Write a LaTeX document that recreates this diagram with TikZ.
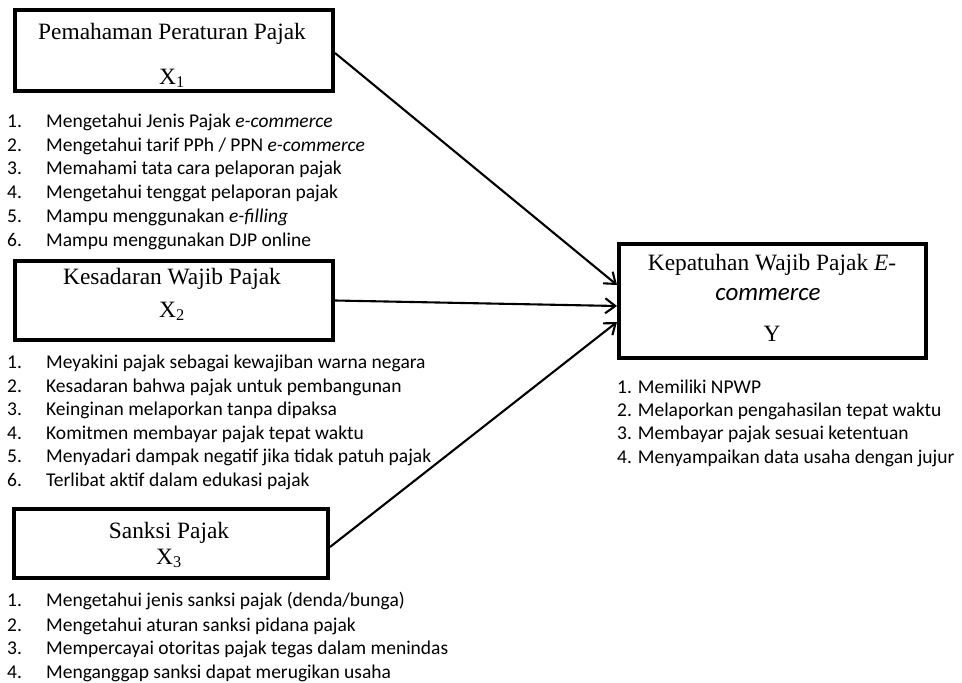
\documentclass[tikz,border=0pt]{standalone}
\usepackage{fontspec}
\setmainfont{Liberation Serif}
\newfontfamily\listfont{Carlito}
\usetikzlibrary{arrows.meta}
\begin{document}
\begin{tikzpicture}[x=1pt,y=-1pt,
  box/.style={draw, line width=3.8pt, inner sep=0pt},
  ttl/.style={anchor=base, inner sep=0pt, font=\fontsize{23.4}{28}\selectfont},
  itm/.style={anchor=base west, inner sep=0pt, font=\listfont\fontsize{19.5}{23.7}\selectfont},
  arr/.style={line width=2.1pt, -{Straight Barb[length=10pt,width=15pt,line width=2.1pt]}}]
\useasboundingbox (0,0) rectangle (962,683);
% boxes
\node[box, minimum width=318.2pt, minimum height=81.2pt] (b1) at (174,50.5) {};
\node[box, minimum width=318.2pt, minimum height=79.2pt] (b2) at (174,300.5) {};
\node[box, minimum width=314.2pt, minimum height=69.2pt] (b3) at (171,543.5) {};
\node[box, minimum width=307.2pt, minimum height=114.2pt] (bY) at (772.5,301) {};
% titles
\node[ttl] (t1) at (172,39.5) {Pemahaman Peraturan Pajak};
\node[ttl] (s1) at (172,84) {X\textsubscript{1}};
\node[ttl] (t2) at (172,284) {Kesadaran Wajib Pajak};
\node[ttl] (s2) at (172,317) {X\textsubscript{2}};
\node[ttl] (t3) at (169,538.5) {Sanksi Pajak};
\node[ttl] (s3) at (169,564) {X\textsubscript{3}};
\node[ttl] (tY) at (772,270.5) {Kepatuhan Wajib Pajak \textit{E}-};
\node[ttl, font=\listfont\itshape\fontsize{25}{28}\selectfont] (cY) at (768,300) {commerce};
\node[ttl] (sY) at (772,341.5) {Y};
% list X1
\foreach \n/\y/\t [count=\i] in {
  1./127/{Mengetahui Jenis Pajak \textit{e-commerce}},
  2./151/{Mengetahui tarif PPh / PPN \textit{e-commerce}},
  3./174/{Memahami tata cara pelaporan pajak},
  4./198/{Mengetahui tenggat pelaporan pajak},
  5./222/{Mampu menggunakan \textit{e-filling}},
  6./246/{Mampu menggunakan DJP online}} {
  \node[itm] (na\i) at (7,\y) {\n};
  \node[itm] (la\i) at (46,\y) {\t};
}
% list X2
\foreach \n/\y/\t [count=\i] in {
  1./368/{Meyakini pajak sebagai kewajiban warna negara},
  2./392/{Kesadaran bahwa pajak untuk pembangunan},
  3./415/{Keinginan melaporkan tanpa dipaksa},
  4./439/{Komitmen membayar pajak tepat waktu},
  5./462/{Menyadari dampak negatif jika tidak patuh pajak},
  6./486/{Terlibat aktif dalam edukasi pajak}} {
  \node[itm] (nb\i) at (7,\y) {\n};
  \node[itm] (lb\i) at (46,\y) {\t};
}
% list X3
\foreach \n/\y/\t [count=\i] in {
  1./606/{Mengetahui jenis sanksi pajak (denda/bunga)},
  2./631/{Mengetahui aturan sanksi pidana pajak},
  3./654/{Mempercayai otoritas pajak tegas dalam menindas},
  4./678/{Menganggap sanksi dapat merugikan usaha}} {
  \node[itm] (nc\i) at (7,\y) {\n};
  \node[itm] (lc\i) at (46,\y) {\t};
}
% list Y
\foreach \y/\t [count=\i] in {
  393/{1. Memiliki NPWP},
  416/{2. Melaporkan pengahasilan tepat waktu},
  439/{3. Membayar pajak sesuai ketentuan},
  463/{4. Menyampaikan data usaha dengan jujur}} {
  \node[itm] (ly\i) at (617,\y) {\t};
}
% arrows
\draw[arr] ([yshift=-2.5pt]b1.east) -- ([yshift=16pt]bY.west);
\draw[arr] (b2.east) -- ([yshift=-5pt]bY.west);
\draw[arr] ([yshift=-3.5pt]b3.east) -- ([yshift=-21pt]bY.west);
\end{tikzpicture}
\end{document}
